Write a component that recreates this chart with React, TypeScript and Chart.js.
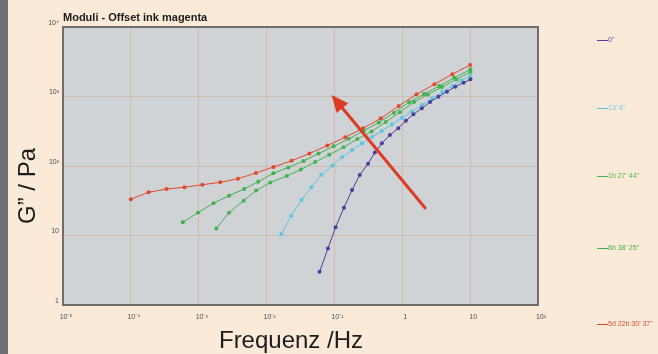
import React, { useEffect, useRef } from "react";
import { Chart, registerables } from "chart.js";

Chart.register(...registerables);

// ---- data ----
const seriesNames = ['0"', "13' 6\"", "1h 27' 44\"", "8h 38' 25\"", "5d 22h 30' 37\""];
const seriesColors = ["#4a3d9c", "#5cc6de", "#44b452", "#3fb04c", "#e2482e"];
const legendTextColors = ["#5a4aa8", "#6ccadb", "#4ab85a", "#46b252", "#e04a30"];

const freq0s = [0.0604, 0.0802, 0.104, 0.138, 0.182, 0.236, 0.313, 0.394, 0.5, 0.657, 0.873, 1.13, 1.46, 1.94, 2.57, 3.41, 4.55, 6.04, 8.02, 10.1];
const g0s = [3.01, 6.5, 13.1, 25.1, 45.2, 74.2, 108, 156, 212, 279, 349, 449, 555, 676, 834, 993, 1172, 1384, 1580, 1768];

const freq13m = [0.0165, 0.023, 0.0327, 0.0459, 0.064, 0.094, 0.13, 0.183, 0.253, 0.356, 0.5, 0.703, 0.99, 1.39, 1.96, 2.76, 3.88, 5.45, 7.41, 10.1];
const g13m = [10.5, 19.1, 32.4, 49.9, 74.2, 102, 135, 170, 211, 261, 319, 395, 491, 608, 755, 936, 1161, 1416, 1699, 1972];

const freq1h = [0.00182, 0.0028, 0.00459, 0.00703, 0.0114, 0.0199, 0.0321, 0.052, 0.0838, 0.136, 0.218, 0.352, 0.57, 0.918, 1.49, 2.39, 3.86, 6.25, 10.1];
const g1h = [12.6, 21.3, 31.7, 44.4, 57.9, 71.8, 89.1, 114, 145, 186, 245, 313, 430, 593, 834, 1069, 1371, 1757, 2253];

const freq8h = [0.000583, 0.000973, 0.00165, 0.0028, 0.00468, 0.00753, 0.0126, 0.0209, 0.035, 0.0583, 0.0973, 0.162, 0.271, 0.452, 0.754, 1.26, 2.09, 3.5, 5.83, 10.1];
const g8h = [15.5, 21.3, 29.1, 37.4, 46.7, 59.4, 78.5, 95.1, 118, 151, 192, 246, 322, 424, 585, 826, 1083, 1412, 1858, 2445];

const freq5d = [0.0001, 0.000183, 0.000336, 0.000615, 0.00113, 0.00207, 0.00379, 0.00695, 0.0127, 0.0234, 0.0428, 0.0785, 0.144, 0.264, 0.483, 0.886, 1.62, 2.98, 5.46, 10];
const g5d = [33.2, 41.9, 46.7, 49.4, 53.8, 58.2, 65.6, 79.3, 96.8, 119, 151, 197, 259, 349, 486, 730, 1075, 1499, 2086, 2840];

const seriesFreqs = [freq0s, freq13m, freq1h, freq8h, freq5d];
const seriesValues = [g0s, g13m, g1h, g8h, g5d];

const xTickValues = [1e-5, 1e-4, 1e-3, 1e-2, 1e-1, 1, 10, 100];
const xTickLabels = ["10⁻⁵", "10⁻⁴", "10⁻³", "10⁻²", "10⁻¹", "1", "10", "10²"];
const yTickValues = [1, 10, 100, 1000, 10000];
const yTickLabels = ["1", "10", "10²", "10³", "10⁴"];

const chartTitle = "Moduli - Offset ink magenta";
const xTitle = "Frequenz /Hz";
const yTitle = "G” / Pa";

// arrow annotation (data coordinates)
const arrowTail = { x: 2.17, y: 24.9 };
const arrowHead = { x: 0.0908, y: 1051 };

// ---- styles ----
const PAGE_BG = "#fbead7";
const STRIP = "#6c6f74";
const PLOT_BG = "#d0d3d6";
const GRID = "rgba(196,150,118,0.38)";
const BORDER = "#6e6e6e";
const FONT = 'Arial, "Liberation Sans", sans-serif';
const legendY = [40, 108, 176, 248, 324];

const decor = {
  id: "decor",
  beforeDraw(chart: any) {
    const { ctx, chartArea: a, width, height } = chart;
    ctx.save();
    ctx.fillStyle = PAGE_BG;
    ctx.fillRect(0, 0, width, height);
    ctx.fillStyle = STRIP;
    ctx.fillRect(0, 0, 8, height);
    ctx.fillStyle = PLOT_BG;
    ctx.fillRect(a.left, a.top, a.right - a.left, a.bottom - a.top);
    ctx.restore();
  },
  afterDatasetsDraw(chart: any) {
    const { ctx } = chart;
    const xs = chart.scales.x;
    const ys = chart.scales.y;
    const x1 = xs.getPixelForValue(arrowTail.x);
    const y1 = ys.getPixelForValue(arrowTail.y);
    const x2 = xs.getPixelForValue(arrowHead.x);
    const y2 = ys.getPixelForValue(arrowHead.y);
    const ang = Math.atan2(y2 - y1, x2 - x1);
    const hl = 17;
    const hw = 7.5;
    const bx = x2 - hl * Math.cos(ang);
    const by = y2 - hl * Math.sin(ang);
    ctx.save();
    ctx.strokeStyle = "#de3b26";
    ctx.fillStyle = "#de3b26";
    ctx.lineWidth = 3;
    ctx.lineCap = "round";
    ctx.beginPath();
    ctx.moveTo(x1, y1);
    ctx.lineTo(bx + 2 * Math.cos(ang), by + 2 * Math.sin(ang));
    ctx.stroke();
    ctx.beginPath();
    ctx.moveTo(x2, y2);
    ctx.lineTo(bx - hw * Math.sin(ang), by + hw * Math.cos(ang));
    ctx.lineTo(bx + hw * Math.sin(ang), by - hw * Math.cos(ang));
    ctx.closePath();
    ctx.fill();
    ctx.restore();
  },
  afterDraw(chart: any) {
    const { ctx, chartArea: a } = chart;
    ctx.save();
    // plot border
    ctx.strokeStyle = BORDER;
    ctx.lineWidth = 2;
    ctx.strokeRect(a.left, a.top, a.right - a.left, a.bottom - a.top);
    // title
    ctx.fillStyle = "#1c1c1c";
    ctx.font = `bold 11px ${FONT}`;
    ctx.textAlign = "left";
    ctx.textBaseline = "middle";
    ctx.fillText(chartTitle, a.left, a.top - 9);
    // x title
    ctx.font = `24px ${FONT}`;
    ctx.textAlign = "center";
    ctx.fillText(xTitle, 291, 341);
    // y title
    ctx.save();
    ctx.translate(28, 186);
    ctx.rotate(-Math.PI / 2);
    ctx.font = `24px ${FONT}`;
    ctx.fillText(yTitle, 0, 0);
    ctx.restore();
    // legend
    ctx.font = `7px ${FONT}`;
    ctx.textAlign = "left";
    ctx.lineWidth = 1;
    seriesNames.forEach((name, i) => {
      const y = legendY[i];
      ctx.strokeStyle = seriesColors[i];
      ctx.beginPath();
      ctx.moveTo(597, y + 0.5);
      ctx.lineTo(608, y + 0.5);
      ctx.stroke();
      ctx.fillStyle = legendTextColors[i];
      ctx.fillText(name, 608, y);
    });
    ctx.restore();
  },
};

export default function App() {
  const ref = useRef<HTMLCanvasElement | null>(null);
  useEffect(() => {
    if (!ref.current) return;
    const datasets = seriesNames.map((name, i) => ({
      label: name,
      data: seriesFreqs[i].map((f, k) => ({ x: f, y: seriesValues[i][k] })),
      borderColor: seriesColors[i],
      backgroundColor: seriesColors[i],
      borderWidth: 1,
      pointRadius: 2,
      pointBorderWidth: 0,
      pointHoverRadius: 2,
      tension: 0,
      fill: false,
    }));
    const chart = new Chart(ref.current, {
      type: "line",
      data: { datasets },
      options: {
        responsive: false,
        animation: false,
        devicePixelRatio: 1,
        layout: { padding: { left: 0, top: 27, right: 120, bottom: 0 } },
        plugins: { legend: { display: false }, tooltip: { enabled: false }, title: { display: false } },
        scales: {
          x: {
            type: "logarithmic",
            min: 1e-5,
            max: 100,
            afterBuildTicks: (s: any) => {
              s.ticks = xTickValues.map((v) => ({ value: v }));
            },
            afterFit: (s: any) => {
              s.height = 49;
            },
            ticks: {
              autoSkip: false,
              maxRotation: 0,
              padding: 8,
              labelOffset: 3,
              color: "#4d4d4d",
              font: { family: FONT, size: 7 },
              callback: (_v: any, i: number) => xTickLabels[i],
            },
            grid: { color: GRID, lineWidth: 1, drawTicks: false },
            border: { display: false },
          },
          y: {
            type: "logarithmic",
            min: 1,
            max: 10000,
            afterBuildTicks: (s: any) => {
              s.ticks = yTickValues.map((v) => ({ value: v }));
            },
            afterFit: (s: any) => {
              s.width = 63;
            },
            ticks: {
              autoSkip: false,
              padding: 4,
              labelOffset: -4,
              color: "#4d4d4d",
              font: { family: FONT, size: 7 },
              callback: (_v: any, i: number) => yTickLabels[i],
            },
            grid: { color: GRID, lineWidth: 1, drawTicks: false },
            border: { display: false },
          },
        },
      },
      plugins: [decor],
    });
    return () => chart.destroy();
  }, []);
  return (
    <div style={{ position: "fixed", left: 0, top: 0, width: 658, height: 354, background: PAGE_BG }}>
      <canvas ref={ref} width={658} height={354} style={{ display: "block" }} />
    </div>
  );
}
